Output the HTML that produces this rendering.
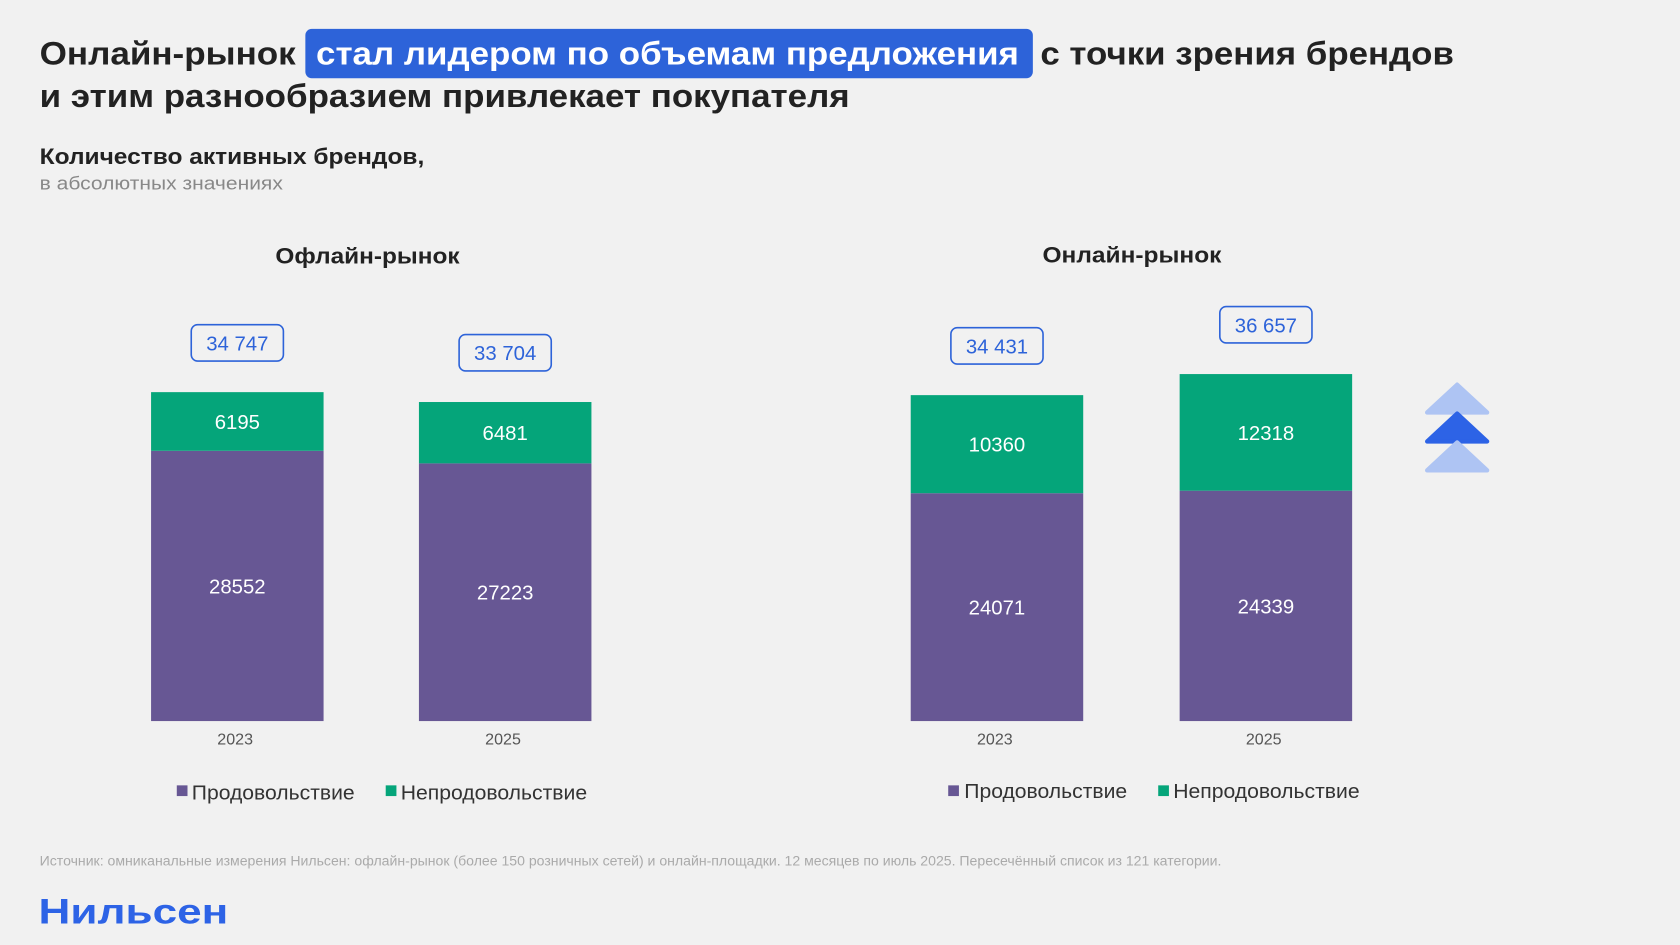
<!DOCTYPE html>
<html><head><meta charset="utf-8"><style>
html,body{margin:0;padding:0;background:#f1f1f1;}
svg{display:block;font-family:"Liberation Sans",Arial,sans-serif;}
</style></head><body>
<svg id="chart" width="1680" height="945" viewBox="0 0 1568 882">
<rect x="0" y="0" width="1568" height="882" fill="#f1f1f1"/>
<g font-weight="bold" font-size="30" fill="#222">
<rect x="285" y="27" width="679" height="46" rx="6" fill="#2d63d9"/>
<text x="37" y="60" textLength="239" lengthAdjust="spacingAndGlyphs">Онлайн-рынок</text>
<text x="295" y="60" fill="#fff" textLength="656" lengthAdjust="spacingAndGlyphs">стал лидером по объемам предложения</text>
<text x="971" y="60" textLength="386" lengthAdjust="spacingAndGlyphs">с точки зрения брендов</text>
<text x="37" y="100" textLength="756" lengthAdjust="spacingAndGlyphs">и этим разнообразием привлекает покупателя</text>
</g>
<text x="37" y="153" font-size="21" font-weight="bold" fill="#222" textLength="359" lengthAdjust="spacingAndGlyphs">Количество активных брендов,</text>
<text x="37" y="177" font-size="17" fill="#888" textLength="227" lengthAdjust="spacingAndGlyphs">в абсолютных значениях</text>
<text x="257" y="246" font-size="21" font-weight="bold" fill="#222" textLength="172" lengthAdjust="spacingAndGlyphs">Офлайн-рынок</text>
<text x="973" y="245" font-size="21" font-weight="bold" fill="#222" textLength="167" lengthAdjust="spacingAndGlyphs">Онлайн-рынок</text>
<g id="bars"></g>
<g>
<path d="M1360 359 L1388 385 L1332 385 Z" fill="#aec4f3" stroke="#aec4f3" stroke-width="4" stroke-linejoin="round"/>
<path d="M1360 386 L1388 412 L1332 412 Z" fill="#2d63e6" stroke="#2d63e6" stroke-width="4" stroke-linejoin="round"/>
<path d="M1360 413 L1388 439 L1332 439 Z" fill="#aec4f3" stroke="#aec4f3" stroke-width="4" stroke-linejoin="round"/>
</g>
<g font-size="19" fill="#333">
<rect x="165" y="733" width="10" height="10" fill="#675794"/><text x="179" y="746" textLength="152" lengthAdjust="spacingAndGlyphs">Продовольствие</text>
<rect x="360" y="733" width="10" height="10" fill="#05a57a"/><text x="374" y="746" textLength="174" lengthAdjust="spacingAndGlyphs">Непродовольствие</text>
</g>
<g font-size="19" fill="#333">
<rect x="885" y="733" width="10" height="10" fill="#675794"/><text x="900" y="745" textLength="152" lengthAdjust="spacingAndGlyphs">Продовольствие</text>
<rect x="1081" y="733" width="10" height="10" fill="#05a57a"/><text x="1095" y="745" textLength="174" lengthAdjust="spacingAndGlyphs">Непродовольствие</text>
</g>
<text x="37" y="808" font-size="12.5" fill="#aaa" textLength="1103" lengthAdjust="spacingAndGlyphs">Источник: омниканальные измерения Нильсен: офлайн-рынок (более 150 розничных сетей) и онлайн-площадки. 12 месяцев по июль 2025. Пересечённый список из 121 категории.</text>
<text x="36" y="862" font-size="33" font-weight="bold" fill="#2d63e6" textLength="177" lengthAdjust="spacingAndGlyphs">Нильсен</text>
</svg>
<script>
const categories = ["2023","2025","2023","2025"];
const panels = ["offline","offline","online","online"];
const foodValues = [28552,27223,24071,24339];
const nonFoodValues = [6195,6481,10360,12318];
const totalLabels = ["34 747","33 704","34 431","36 657"];
const barLefts = [141,391,850,1101];
const baseY = 673, barW = 161, k = 307/34747;
const y = v => baseY - v*k;
const NS = "http://www.w3.org/2000/svg";
const g = document.getElementById("bars");
function mk(tag, attrs, text){const e=document.createElementNS(NS,tag);for(const a in attrs)e.setAttribute(a,attrs[a]);if(text!==undefined)e.textContent=text;g.appendChild(e);return e;}
categories.forEach((c,i)=>{
  const x = barLefts[i], f = foodValues[i], n = nonFoodValues[i];
  const r1 = mk("rect",{x:x,y:y(f),width:barW,height:baseY-y(f),fill:"#675794"});
  
  
  const r2 = mk("rect",{x:x,y:y(f+n),width:barW,height:y(f)-y(f+n),fill:"#05a57a"});
  
  
  const t1 = mk("text",{x:x+barW/2,y:(y(f)+baseY)/2+7,"font-size":19,fill:"#fff","text-anchor":"middle"},String(f));
  
  
  const t2 = mk("text",{x:x+barW/2,y:(y(f)+y(f+n))/2+7,"font-size":19,fill:"#fff","text-anchor":"middle"},String(n));
  
  
  const top = y(f+n);
  const bx = mk("rect",{x:x+barW/2-43,y:top-63,width:86,height:34,rx:6,fill:"none",stroke:"#2d63d9","stroke-width":1.5});
  
  
  const tt = mk("text",{x:x+barW/2,y:top-39,"font-size":19,fill:"#2d63d9","text-anchor":"middle"},totalLabels[i]);
  
  
  const xl = mk("text",{x:x+barW/2-2,y:baseY+22,"font-size":15,fill:"#555","text-anchor":"middle"},c);
  
  
});
</script>
</body></html>
